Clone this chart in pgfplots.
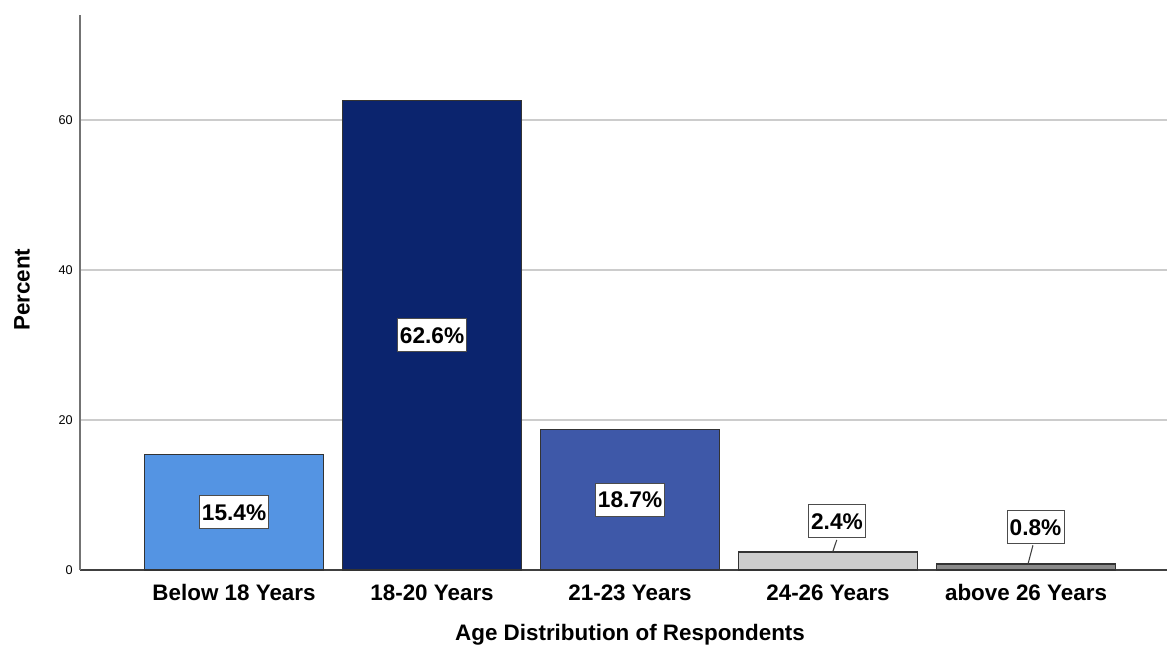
\documentclass[border=0pt]{standalone}
\usepackage{fontspec}
\setmainfont{Liberation Sans}
\usepackage{pgfplots}
\pgfplotsset{compat=1.18}
\definecolor{cA}{HTML}{5494E3}
\definecolor{cB}{HTML}{0B246E}
\definecolor{cC}{HTML}{3E58A8}
\definecolor{cD}{HTML}{CDCDCD}
\definecolor{cE}{HTML}{8A8A8A}
\begin{document}
\begin{tikzpicture}
\begin{axis}[
  scale only axis, width=815.25pt, height=416.25pt,
  xmin=-0.778, xmax=4.712, ymin=0, ymax=74,
  axis lines=left,
  axis line style={-, draw=black!55, line width=0.8pt},
  x axis line style={draw=black!75},
  xtick={0,1,2,3,4},
  xticklabels={Below 18 Years,18-20 Years,21-23 Years,24-26 Years,above 26 Years},
  xticklabel style={font=\fontsize{16.8}{20}\selectfont\bfseries, anchor=north, text height=12.5pt, text depth=3.5pt, inner sep=0pt, yshift=-10pt},
  ytick={0,20,40,60},
  yticklabel style={font=\fontsize{9.5}{11}\selectfont, xshift=-2pt},
  /pgf/number format/assume math mode=true,
  major tick length=0pt,
  ymajorgrids, grid style={draw=black!20, line width=1.1pt},
  xlabel={Age Distribution of Respondents},
  ylabel={Percent},
  every axis x label/.style={at={(axis description cs:0.506,0)}, yshift=-48.5pt, anchor=center, font=\fontsize{16.8}{20}\selectfont\bfseries},
  every axis y label/.style={at={(axis description cs:0,0.505)}, xshift=-43.5pt, rotate=90, anchor=center, font=\fontsize{16.8}{20}\selectfont\bfseries},
  clip=false,
]
\addplot[ybar, bar width=0.9, fill=cA, draw=black!80, line width=0.8pt] coordinates {(0,15.4)};
\addplot[ybar, bar width=0.9, fill=cB, draw=black!80, line width=0.8pt] coordinates {(1,62.6)};
\addplot[ybar, bar width=0.9, fill=cC, draw=black!80, line width=0.8pt] coordinates {(2,18.7)};
\addplot[ybar, bar width=0.9, fill=cD, draw=black!80, line width=0.8pt] coordinates {(3,2.4)};
\addplot[ybar, bar width=0.9, fill=cE, draw=black!80, line width=0.8pt] coordinates {(4,0.8)};
% leader lines
\addplot[black!75, line width=0.8pt, mark=none] coordinates {(3.044,4.0) (3.024,2.44)};
\addplot[black!75, line width=0.8pt, mark=none] coordinates {(4.035,3.3) (4.010,0.8)};
% value labels
\addplot[draw=none, mark=none, nodes near coords, point meta=explicit symbolic,
  every node near coord/.style={anchor=center, draw=black!70, line width=0.8pt, fill=white, text=black,
    inner xsep=2pt, inner ysep=0pt, minimum height=25pt, font=\fontsize{17}{20}\selectfont\bfseries}]
  table[meta=lab] {
x y lab
0 7.7 15.4\%
1 31.3 62.6\%
2 9.35 18.7\%
3.045 6.5 2.4\%
4.048 5.7 0.8\%
};
\end{axis}
\pgfresetboundingbox
\path (-60pt,-58.5pt) rectangle (815.25pt,427.5pt);
\end{tikzpicture}
\end{document}
